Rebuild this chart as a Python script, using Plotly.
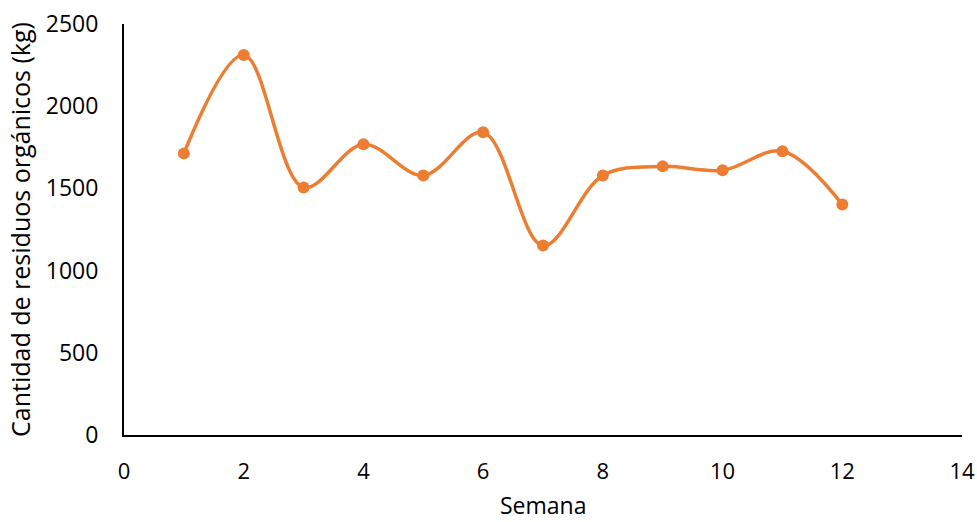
import plotly.graph_objects as go

semana = [1, 2, 3, 4, 5, 6, 7, 8, 9, 10, 11, 12]
residuos = [1713, 2311, 1506, 1768, 1579, 1841, 1152, 1579, 1634, 1610, 1726, 1402]

x_ticks = [0, 2, 4, 6, 8, 10, 12, 14]
y_ticks = [0, 500, 1000, 1500, 2000, 2500]

color = "#ED7D31"
font_family = "Open Sans, sans-serif"

fig = go.Figure()
fig.add_trace(go.Scatter(
    x=semana, y=residuos, mode="lines+markers",
    line=dict(color=color, width=3.5, shape="spline", smoothing=1.0),
    marker=dict(color=color, size=12),
    showlegend=False,
))

fig.update_layout(
    width=977, height=522, autosize=False,
    margin=dict(l=124, r=15, t=24, b=87),
    paper_bgcolor="white", plot_bgcolor="white",
    font=dict(family=font_family, size=20, color="black"),
    xaxis=dict(
        range=[0, 14], tickvals=x_ticks, showgrid=False, zeroline=False,
        showline=True, linecolor="black", linewidth=2, automargin=False,
        ticks="outside", ticklen=16, tickcolor="rgba(0,0,0,0)",
        tickfont=dict(size=22),
    ),
    yaxis=dict(
        range=[0, 2500], tickvals=y_ticks, showgrid=False, zeroline=False,
        showline=True, linecolor="black", linewidth=2, automargin=False,
        ticks="outside", ticklen=19, tickcolor="rgba(0,0,0,0)",
        tickfont=dict(size=23),
        title=dict(text="Cantidad de residuos orgánicos (kg)", font=dict(size=25), standoff=8),
    ),
    annotations=[dict(
        text="Semana", xref="paper", yref="paper", x=0.5, y=-0.17,
        xanchor="center", yanchor="middle", showarrow=False,
        font=dict(size=23, family=font_family, color="black"),
    )],
)

fig.write_html(
    "out.html",
    config={"displayModeBar": False},
    post_script="document.body.style.margin='0';document.body.style.overflow='hidden';",
)
